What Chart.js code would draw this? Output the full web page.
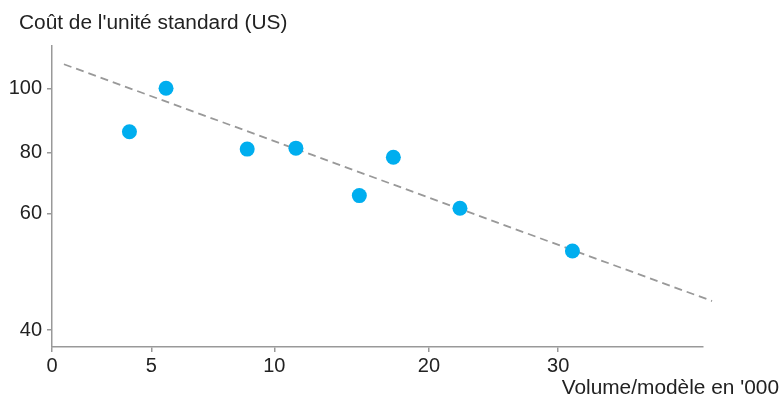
<!DOCTYPE html>
<html>
<head>
<meta charset="utf-8">
<script src="https://cdn.jsdelivr.net/npm/chart.js@4"></script>
<style>
  html, body { margin: 0; padding: 0; background: #fff; }
  #wrap { width: 782px; height: 398px; }
</style>
</head>
<body>
<div id="wrap"><canvas id="chart" width="782" height="398"></canvas></div>
<script>
// Data
const xVolume = [3.9, 5.6, 8.9, 11.4, 15.5, 17.7, 22.4, 31.1];
const yCost = [86.4, 100, 81.0, 81.3, 65.9, 78.4, 61.8, 53.6];
const trendX = [0.6, 41.9];
const trendY = [107.5, 45.0];
const xTicks = [0, 5, 10, 20, 30];
const yTicks = [40, 60, 80, 100];
const yTitle = "Coût de l'unité standard (US)";
const xTitle = "Volume/modèle en '000";

// Axis whose ticks are not evenly spaced: linear between each pair of ticks
class UnevenScale extends Chart.LinearScale {
    static id = "uneven";
    static defaults = Chart.LinearScale.defaults;

    buildTicks() {
        return this.options.tickValues.map(v => ({ value: v }));
    }
    toPos(v) {
        const vals = this.options.tickValues;
        const pos = this.options.tickPos;
        let i = 1;
        while (i < vals.length - 1 && v > vals[i]) i++;
        return pos[i - 1] + (v - vals[i - 1]) * (pos[i] - pos[i - 1]) / (vals[i] - vals[i - 1]);
    }
    getPixelForValue(v) {
        const a = this.toPos(this.min);
        const b = this.toPos(this.max);
        return this.getPixelForDecimal((this.toPos(v) - a) / (b - a));
    }
}
Chart.register(UnevenScale);

// the text in the original is a little wider than Liberation Sans
const axisTitles = {
    id: "axisTitles",
    afterDraw(chart) {
        const ctx = chart.ctx;
        const sx = 1.043;
        ctx.save();
        ctx.font = '20px "Liberation Sans", Arial, sans-serif';
        ctx.fillStyle = "#222";
        ctx.textBaseline = "middle";
        ctx.scale(sx, 1);
        ctx.textAlign = "left";
        ctx.fillText(yTitle, 19 / sx, 23);
        ctx.textAlign = "right";
        ctx.fillText(xTitle, 779 / sx, 388);
        ctx.restore();
    }
};

const tickFont = { family: '"Liberation Sans", Arial, sans-serif', size: 20 };

new Chart(document.getElementById("chart").getContext("2d"), {
    type: "scatter",
    data: {
        datasets: [
            {
                data: xVolume.map((x, i) => ({ x: x, y: yCost[i] })),
                backgroundColor: "#00aeef",
                borderWidth: 0,
                pointRadius: 7.5,
                order: 0
            },
            {
                type: "line",
                data: trendX.map((x, i) => ({ x: x, y: trendY[i] })),
                borderColor: "#999",
                borderWidth: 1.8,
                borderDash: [8, 5],
                pointRadius: 0,
                fill: false,
                clip: false,
                order: 1
            }
        ]
    },
    options: {
        responsive: false,
        animation: false,
        layout: { padding: { top: 46, right: 79, left: 0, bottom: 0 } },
        plugins: {
            legend: { display: false },
            tooltip: { enabled: false }
        },
        scales: {
            x: {
                type: "uneven",
                min: 0,
                max: 41.2,
                tickValues: xTicks,
                tickPos: [0, 99.3, 222.3, 377, 506.3],
                afterFit: (s) => { s.height = 51; },
                ticks: { color: "#222", font: tickFont, padding: 2, autoSkip: false, maxRotation: 0 },
                grid: { drawOnChartArea: false, tickLength: 5, color: "#999", lineWidth: 1.5 },
                border: { color: "#999", width: 1.5 }
            },
            y: {
                type: "uneven",
                min: 37.1,
                max: 113.2,
                tickValues: yTicks,
                tickPos: [0, 116.3, 177.7, 241.7],
                afterFit: (s) => { s.width = 52; },
                ticks: { color: "#222", font: tickFont, padding: 5, autoSkip: false },
                grid: { drawOnChartArea: false, tickLength: 5, color: "#999", lineWidth: 1.5 },
                border: { color: "#999", width: 1.5 }
            }
        }
    },
    plugins: [axisTitles]
});
</script>
</body>
</html>
